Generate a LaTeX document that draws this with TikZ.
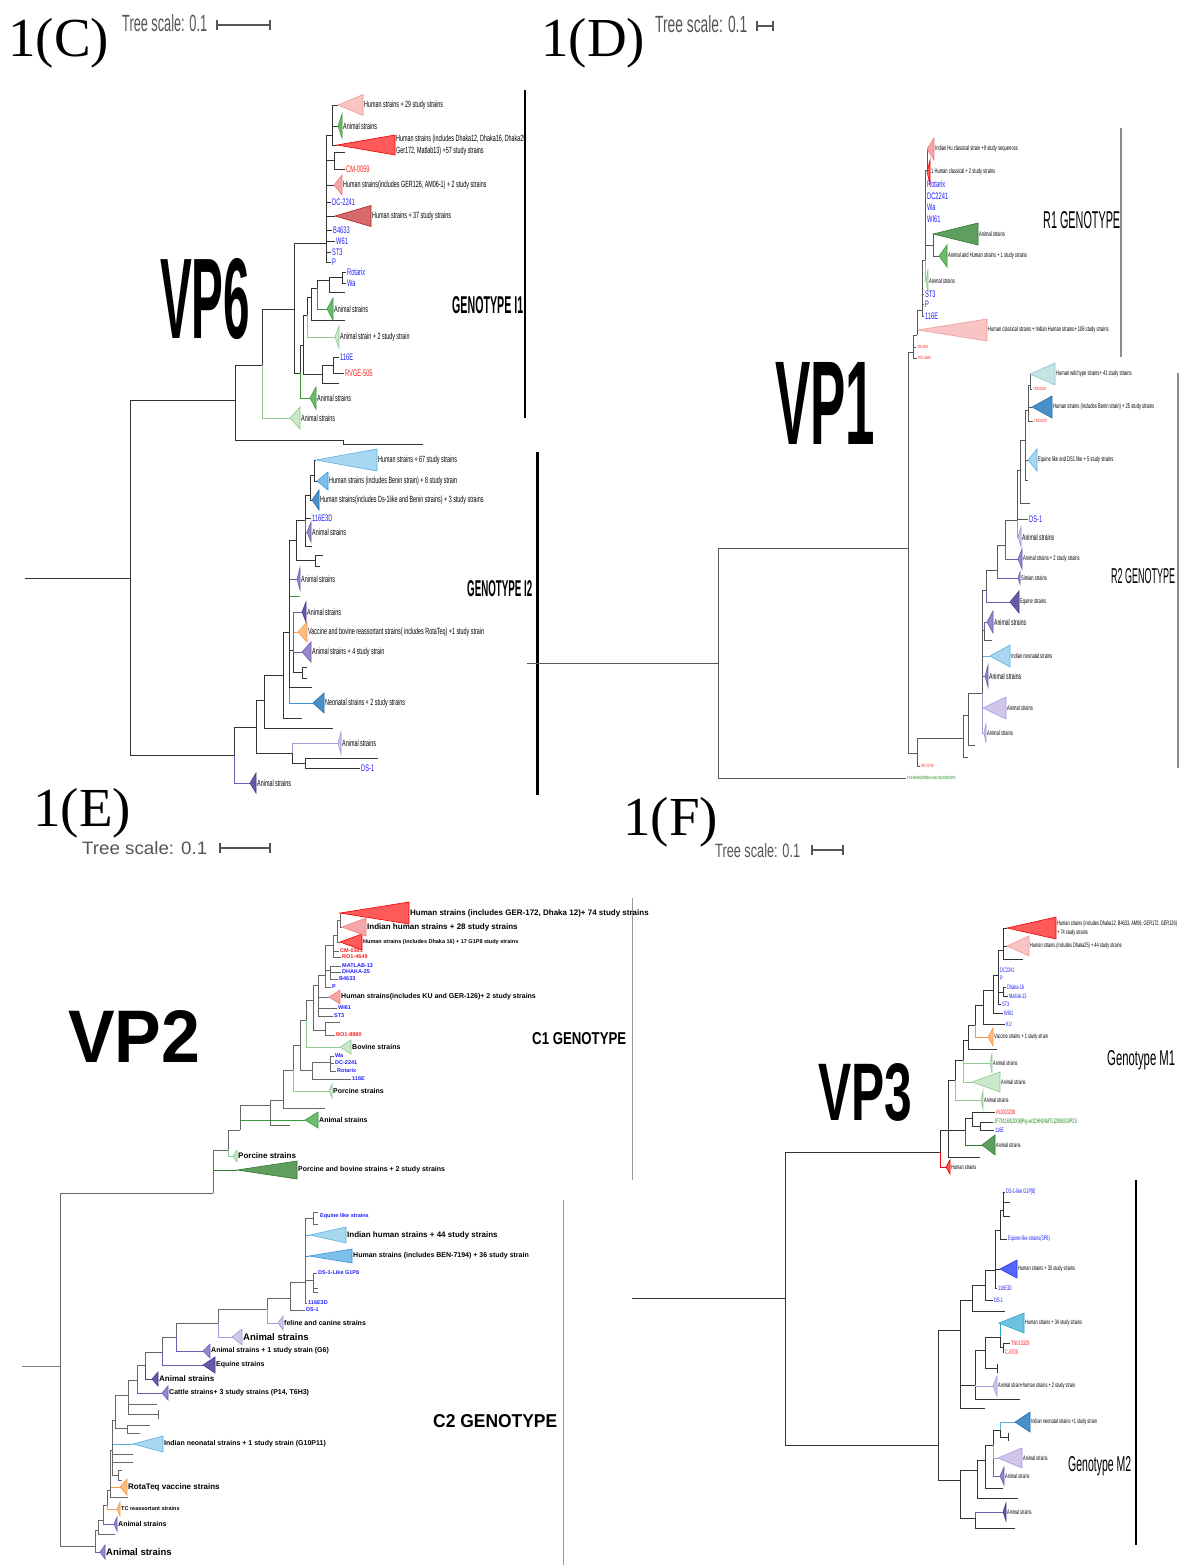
\documentclass[tikz,border=0pt]{standalone}
\usepackage{fontspec}
\setmainfont{Liberation Serif}
\newfontfamily\narrow[FakeStretch=0.6]{Liberation Sans}
\newfontfamily\sans{Liberation Sans}
\definecolor{tblue}{HTML}{1E1EFF}
\definecolor{tred}{HTML}{FF1E1E}
\definecolor{tgreen}{HTML}{1E8A1E}
\definecolor{sgray}{HTML}{555555}
\definecolor{pinkLf}{HTML}{F8C4C4}\definecolor{pinkLd}{HTML}{F19A9A}
\definecolor{pinkMf}{HTML}{F6A6A6}\definecolor{pinkMd}{HTML}{EE7F7F}
\definecolor{redBf}{HTML}{FF5A5A}\definecolor{redBd}{HTML}{F00000}
\definecolor{redDf}{HTML}{D46A6A}\definecolor{redDd}{HTML}{B22222}
\definecolor{grnDf}{HTML}{5F9E5F}\definecolor{grnDd}{HTML}{2F7A2F}
\definecolor{grnf}{HTML}{6DBB6D}\definecolor{grnd}{HTML}{3A9A3A}
\definecolor{grnLf}{HTML}{CBE8CB}\definecolor{grnLd}{HTML}{8FCB8F}
\definecolor{bluLf}{HTML}{A8D8F0}\definecolor{bluLd}{HTML}{5AB0E0}
\definecolor{bluMf}{HTML}{7EC0EA}\definecolor{bluMd}{HTML}{3A97D5}
\definecolor{bluDf}{HTML}{4A90C8}\definecolor{bluDd}{HTML}{2A6EA8}
\definecolor{tealf}{HTML}{C3E3E5}\definecolor{teald}{HTML}{8CC7CB}
\definecolor{purDf}{HTML}{6A58A8}\definecolor{purDd}{HTML}{4B3A8A}
\definecolor{purf}{HTML}{9887CC}\definecolor{purd}{HTML}{6E5BB0}
\definecolor{lavf}{HTML}{CFC6EA}\definecolor{lavd}{HTML}{A898D8}
\definecolor{ornf}{HTML}{FDBE85}\definecolor{ornd}{HTML}{F39A45}
\definecolor{royf}{HTML}{5566FF}\definecolor{royd}{HTML}{2233EE}
\definecolor{cyaf}{HTML}{6CC3E0}\definecolor{cyad}{HTML}{2EA2C8}
\newcommand{\fC}{\narrow\fontsize{9}{12}\selectfont}
\newcommand{\fCb}{\narrow\fontsize{9.5}{12}\selectfont}
\newcommand{\fD}{\narrow\fontsize{6.8}{8}\selectfont}
\newcommand{\fDb}{\narrow\fontsize{8.5}{10}\selectfont}
\newcommand{\fDt}{\narrow\fontsize{4.5}{5}\selectfont}
\newcommand{\fF}{\narrow\fontsize{6.5}{9}\selectfont}
\newcommand{\fE}{\sans\bfseries\fontsize{7}{8}\selectfont}
\newcommand{\fEs}{\sans\bfseries\fontsize{5.5}{6}\selectfont}
\newcommand{\fEm}{\sans\bfseries\fontsize{8}{9}\selectfont}
\newcommand{\fEb}{\sans\bfseries\fontsize{9.5}{10}\selectfont}
\newcommand{\clade}[8]{%
  \filldraw[#6] (#2,#3) -- ({#2+#4},{#3-#5}) -- ({#2+#4},{#3+#5}) -- cycle;
  \node[#7] (#1) at ({#2+#4},#3) {#8};}
\tikzset{
  x=1pt, y=-1pt,
  br/.style={draw=black!80, line width=0.8pt},
  lbl/.style={inner sep=1pt, anchor=west, align=left},
  lC/.style={lbl, font=\fC}, bC/.style={lbl, font=\fCb, text=tblue}, rC/.style={lbl, font=\fCb, text=tred},
  lD/.style={lbl, font=\fD}, lDb/.style={lbl, font=\fDb}, bD/.style={lbl, font=\fCb, text=tblue},
  rD/.style={lbl, font=\fDt, text=tred}, gD/.style={lbl, font=\fDt, text=tgreen},
  lE/.style={lbl, font=\fE}, lEs/.style={lbl, font=\fEs}, lEm/.style={lbl, font=\fEm}, lEb/.style={lbl, font=\fEb},
  bE/.style={lbl, font=\fEs, text=tblue}, rE/.style={lbl, font=\fEs, text=tred},
  lF/.style={lbl, font=\fF}, bF/.style={lbl, font=\fF, text=tblue}, rF/.style={lbl, font=\fF, text=tred}, gF/.style={lbl, font=\fF, text=tgreen},
  pinkL/.style={fill=pinkLf, draw=pinkLd, line width=0.6pt},
  pinkM/.style={fill=pinkMf, draw=pinkMd, line width=0.6pt},
  redB/.style={fill=redBf, draw=redBd, line width=0.6pt},
  redD/.style={fill=redDf, draw=redDd, line width=0.6pt},
  grnD/.style={fill=grnDf, draw=grnDd, line width=0.6pt},
  grn/.style={fill=grnf, draw=grnd, line width=0.6pt},
  grnL/.style={fill=grnLf, draw=grnLd, line width=0.6pt},
  bluL/.style={fill=bluLf, draw=bluLd, line width=0.6pt},
  bluM/.style={fill=bluMf, draw=bluMd, line width=0.6pt},
  bluD/.style={fill=bluDf, draw=bluDd, line width=0.6pt},
  teal/.style={fill=tealf, draw=teald, line width=0.6pt},
  purD/.style={fill=purDf, draw=purDd, line width=0.6pt},
  pur/.style={fill=purf, draw=purd, line width=0.6pt},
  lav/.style={fill=lavf, draw=lavd, line width=0.6pt},
  orn/.style={fill=ornf, draw=ornd, line width=0.6pt},
  roy/.style={fill=royf, draw=royd, line width=0.6pt},
  cya/.style={fill=cyaf, draw=cyad, line width=0.6pt},
  ttl/.style={anchor=base west, inner sep=0pt, font=\fontsize{55}{60}\selectfont},
  fit/.style={anchor=base west, inner sep=0pt},
  scb/.style={draw=sgray, line width=1.5pt},
  gbar/.style={draw=black!45, line width=1.5pt}
}
\begin{document}
\begin{tikzpicture}
\useasboundingbox (0,0) rectangle (1184,1565);
\fill[white] (0,0) rectangle (1184,1565);

%%%%%%%%%%%%%%%%%%%%%%%%%%%% PANEL C (VP6)
\node[ttl] (tC) at (8,57) {1(C)};
\node[fit] (tsC) at (122,32) {\resizebox{85pt}{17pt}{\sans\color{sgray}Tree scale: 0.1}};
\draw[scb] (217,25) -- (270,25); \draw[scb] (217,20) -- (217,30); \draw[scb] (270,20) -- (270,30);
\node[fit] (vp6) at (160,338) {\resizebox{90pt}{80pt}{\sans\bfseries VP6}};
\node[fit] (gI1) at (452,313) {\resizebox{71pt}{17pt}{\sans\bfseries GENOTYPE I1}};
\node[fit] (gI2) at (467,596) {\resizebox{65pt}{16pt}{\sans\bfseries GENOTYPE I2}};
\draw[line width=2pt] (525,90) -- (525,418);
\draw[line width=3pt] (537,452) -- (537,795);

\draw[br] (25,578) -- (130,578);
\draw[br] (130,578) |- (235,400);
\draw[br] (130,578) |- (234,755);
\draw[br] (235,400) |- (343,440) -- (343,444) -- (423,444);
\draw[br] (235,400) |- (262,365);
\draw[br] (262,365) |- (294,309);
\draw[br,draw=grnLd] (262,365) |- (290,418);
\clade{cA1}{290}{418}{10}{11}{grnL}{lC}{Animal strains}
\draw[br] (294,309) |- (326,243);
\draw[br] (294,309) |- (300,373);
% upper group
\draw[br] (326,243) |- (331,262); \node[bC] (cP) at (331,262) {P};
\draw[br] (326,243) |- (331,252); \node[bC] (cST3) at (331,252) {ST3};
\draw[br] (326,243) |- (335,241); \node[bC] (cW61) at (335,241) {W61};
\draw[br] (326,243) |- (332,230); \node[bC] (cB4633) at (332,230) {B4633};
\draw[br] (326,243) |- (335,216);
\clade{c37}{335}{216}{36}{10.5}{redD}{lC}{Human strains + 37 study strains}
\draw[br] (326,243) |- (331,202); \node[bC] (cDC) at (331,202) {DC-2241};
\draw[br] (326,243) |- (334,185);
\clade{cGER}{334}{185}{8}{10}{pinkM}{lC}{Human strains(includes GER126, AM06-1) + 2 study strains}
\draw[br] (326,243) |- (334,160);
\draw[br] (334,160) |- (345,152);
\draw[br] (334,160) |- (345,169); \node[rC] (cCM) at (345,169) {CM-0059};
\draw[br] (326,243) |- (332,135);
\draw[br] (332,135) |- (337,145);
\clade{c57}{337}{145}{58}{10}{redB}{lC}{Human strains (includes Dhaka12, Dhaka16, Dhaka25\\Ger172, Matlab13) +57 study strains}
\draw[br] (332,135) |- (338,126);
\clade{cA2}{338}{126}{4}{12}{grn}{lC}{Animal strains}
\draw[br] (332,135) |- (338,105);
\clade{c29}{338}{105}{25}{10.5}{pinkL}{lC}{Human strains + 29 study strains}
% lower I1
\draw[br,draw=grnd] (300,373) |- (310,398);
\clade{cA3}{310}{398}{6}{11}{grn}{lC}{Animal strains}
\draw[br] (300,373) |- (303,345);
\draw[br] (303,345) |- (322,374);
\draw[br] (322,374) |- (339,383);
\draw[br] (322,374) |- (333,365);
\draw[br] (333,365) |- (339,357); \node[bC] (c116E) at (339,357) {116E};
\draw[br] (333,365) |- (344,373); \node[rC] (cRV) at (344,373) {RVGE-505};
\draw[br] (303,345) |- (307,315);
\draw[br,draw=grnLd] (307,315) |- (335,337);
\clade{cA4}{335}{337}{4}{11}{grnL}{lC}{Animal strain + 2 study strain}
\draw[br] (307,315) |- (311,297);
\draw[br] (311,297) |- (345,320);
\draw[br] (311,297) |- (317,288);
\draw[br,draw=grnd] (317,288) |- (327,309);
\clade{cA5}{327}{309}{6}{11}{grn}{lC}{Animal strains}
\draw[br] (317,288) |- (329,280);
\draw[br] (329,280) |- (345,292);
\draw[br] (329,280) |- (342,277);
\draw[br] (342,277) |- (346,272); \node[bC] (cRot) at (346,272) {Rotarix};
\draw[br] (342,277) |- (346,283); \node[bC] (cWa) at (346,283) {Wa};
% I2
\draw[br] (234,755) |- (256,727);
\draw[br,draw=purd] (234,755) |- (250,783);
\clade{cA6}{250}{783}{6}{10}{purD}{lC}{Animal strains}
\draw[br] (256,727) |- (292,753);
\draw[br] (256,727) |- (264,700);
\draw[br,draw=lavd] (292,753) |- (338,743);
\clade{cA7}{338}{743}{3}{11}{lav}{lC}{Animal strains}
\draw[br] (292,753) |- (305,763);
\draw[br] (305,763) |- (378,758);
\draw[br] (305,763) |- (360,768); \node[bC] (cDS1) at (360,768) {DS-1};
\draw[br] (264,700) |- (333,728);
\draw[br] (264,700) |- (283,675);
\draw[br] (283,675) |- (302,718);
\draw[br] (283,675) |- (289,632);
\draw[br,draw=bluMd] (289,632) |- (313,703);
\clade{cNeo}{313}{703}{11}{10}{bluD}{lC}{Neonatal strains + 2 study strains}
\draw[br] (289,632) |- (312,687);
\draw[br] (289,632) |- (293,650);
\draw[br] (293,650) |- (302,672);
\draw[br] (302,672) |- (307,667); \draw[br] (302,672) |- (307,678);
\draw[br,draw=purd] (293,650) |- (302,652);
\clade{cA8}{302}{652}{9}{10}{pur}{lC}{Animal strains + 4 study strain}
\draw[br,draw=ornd] (293,650) |- (298,632);
\clade{cVac}{298}{632}{9}{10}{orn}{lC}{Vaccine and bovine reassortant strains( includes RotaTeq) +1 study strain}
\draw[br,draw=purd] (293,650) |- (302,612);
\clade{cA9}{302}{612}{4}{10}{purD}{lC}{Animal strains}
\draw[br,draw=grnd] (289,632) |- (300,596);
\draw[br,draw=purd] (289,632) |- (297,579);
\clade{cA10}{297}{579}{3}{11}{pur}{lC}{Animal strains}
\draw[br] (289,632) |- (296,540);
\draw[br] (296,540) |- (315,560);
\draw[br] (315,560) |- (323,555); \draw[br] (315,560) |- (320,566);
\draw[br] (296,540) |- (305,520);
\draw[br] (305,520) |- (312,546);
\draw[br,draw=purd] (305,520) |- (307,532);
\clade{cA11}{307}{532}{4}{10}{pur}{lC}{Animal strains}
\draw[br] (305,520) |- (311,518); \node[bC] (c116E3D) at (311,518) {116E3D};
\draw[br] (305,520) |- (310,495);
\draw[br] (310,495) |- (312,500);
\clade{cDs}{312}{500}{7}{10}{bluD}{lC}{Human strains(includes Ds-1like and Benin strains) + 3 study strains}
\draw[br] (310,495) |- (314,475);
\draw[br] (314,475) |- (317,481);
\clade{cBen}{317}{481}{11}{9}{bluM}{lC}{Human strains (includes Benin strain) + 8 study strain}
\draw[br] (314,475) |- (316,460);
\clade{c67}{316}{460}{61}{11}{bluL}{lC}{Human strains + 67 study strains}

%%%%%%%%%%%%%%%%%%%%%%%%%%%% PANEL D (VP1)
\begin{scope}[br/.style={draw=black!65, line width=0.7pt}]
\node[ttl] (tD) at (541,57) {1(D)};
\node[fit] (tsD) at (655,33) {\resizebox{92pt}{17pt}{\sans\color{sgray}Tree scale: 0.1}};
\draw[scb] (757,26) -- (773,26); \draw[scb] (757,21) -- (757,31); \draw[scb] (773,21) -- (773,31);
\node[fit] (vp1) at (775,444) {\resizebox{100pt}{82pt}{\sans\bfseries VP1}};
\node[fit] (gR1) at (1043,228) {\resizebox{77pt}{17pt}{\sans R1 GENOTYPE}};
\node[fit] (gR2) at (1111,583) {\resizebox{64pt}{15pt}{\sans R2 GENOTYPE}};
\draw[gbar] (1121,128) -- (1121,357);
\draw[gbar] (1178,373) -- (1178,768);

\draw[br] (527,663) -- (718,663);
\draw[br] (718,663) |- (908,548);
\draw[br] (718,663) |- (906,778); \node[gD] (dKX) at (906,778) {KX136569|2008|Bat-wt|CHN|2008|G3P3};
\draw[br] (908,548) |- (913,352);
\draw[br] (908,548) |- (917,753);
\draw[br] (917,753) |- (920,766); \node[rD] (dRO3) at (920,766) {RO1-5746};
\draw[br] (917,753) |- (963,738);
\draw[br] (963,738) |- (968,757);
\draw[br] (963,738) |- (968,715);
\draw[br] (968,715) |- (975,745);
\draw[br] (968,715) |- (982,693);
\draw[br,draw=lavd] (982,693) |- (983,708);
\clade{dA1}{983}{708}{23}{11}{lav}{lD}{Animal strains}
\draw[br,draw=lavd] (982,693) |- (984,733);
\clade{dA2}{984}{733}{2}{10}{lav}{lD}{Animal strains}
\draw[br,draw=purd] (982,693) |- (985,676);
\clade{dA3}{985}{676}{3}{11}{pur}{lDb}{Animal strains}
\draw[br,draw=bluLd] (982,693) |- (990,656);
\clade{dNeo}{990}{656}{20}{11}{bluL}{lD}{Indian neonatal strains}
\draw[br] (982,693) |- (984,630);
\draw[br] (984,630) |- (992,640);
\draw[br,draw=purd] (984,630) |- (987,622);
\clade{dA4}{987}{622}{6}{11}{pur}{lDb}{Animal strains}
\draw[br] (982,693) |- (986,590);
\draw[br,draw=purd] (986,590) |- (1010,602);
\clade{dEq}{1010}{602}{9}{11}{purD}{lD}{Equine strains}
\draw[br] (986,590) |- (997,570);
\draw[br,draw=purd] (997,570) |- (1018,578);
\clade{dSim}{1018}{578}{2}{6}{pur}{lD}{Simian strains}
\draw[br] (997,570) |- (1005,545);
\draw[br,draw=purd] (1005,545) |- (1018,559);
\clade{dA5}{1018}{559}{4}{10}{pur}{lD}{Animal strains + 2 study strains}
\draw[br] (1005,545) |- (1017,520);
\draw[br,draw=lavd] (1017,520) |- (1018,537);
\clade{dA6}{1018}{537}{3}{10}{lav}{lDb}{Animal strains}
\draw[br] (1017,520) |- (1028,519); \node[bD] (dDS1) at (1028,519) {DS-1};
\draw[br] (1017,520) |- (1020,470);
\draw[br] (1020,470) |- (1030,503);
\draw[br] (1020,470) |- (1025,440);
\draw[br] (1025,440) |- (1028,480);
\draw[br] (1025,440) |- (1028,460);
\clade{dEqL}{1028}{460}{9}{11}{bluL}{lD}{Equine like and DS1 like + 5 study strains}
\draw[br] (1025,440) |- (1028,410);
\draw[br] (1028,410) |- (1032,407);
\clade{dBen}{1032}{407}{20}{11}{bluD}{lD}{Human strains (includes Benin strain) + 25 study strains}
\draw[br] (1028,410) |- (1033,421); \node[rD] (dTN2) at (1033,421) {TN010204};
\draw[br] (1028,410) |- (1030,385);
\draw[br] (1030,385) |- (1032,389); \node[rD] (dTN1) at (1032,389) {TN010329};
\draw[br] (1030,385) |- (1030,374);
\clade{dWild}{1030}{374}{25}{11}{teal}{lD}{Human wild type strains+ 41 study strains}
% R1
\draw[br] (913,352) |- (917,358); \node[rD] (dRO1) at (917,358) {RO1-4649};
\draw[br] (913,352) |- (916,347); \node[rD] (dCM) at (916,347) {CM-0381};
\draw[br] (913,352) |- (917,335);
\draw[br] (917,335) |- (918,330);
\clade{dHC}{918}{330}{69}{11}{pinkL}{lD}{Human classical strains + Indian Human strains+ 106 study strains}
\draw[br] (917,335) |- (922,310);
\draw[br] (922,310) |- (924,316); \node[bD] (d116E) at (924,316) {116E};
\draw[br] (922,310) |- (924,304); \node[bD] (dP) at (924,304) {P};
\draw[br] (922,310) |- (924,294); \node[bD] (dST3) at (924,294) {ST3};
\draw[br] (922,310) |- (925,260);
\draw[br,draw=grnLd] (925,260) |- (926,281);
\clade{dA7}{926}{281}{2}{12}{grnL}{lD}{Animal strains}
\draw[br] (925,260) |- (933,245);
\draw[br] (933,245) |- (933,234);
\clade{dA8}{933}{234}{45}{11}{grnD}{lD}{Animal strains}
\draw[br] (933,245) |- (939,256);
\clade{dAH}{939}{256}{8}{11}{grn}{lD}{Animal and Human strains + 1 study strains}
\draw[br] (925,260) |- (925,200);
\draw[br] (925,200) |- (926,219); \node[bD] (dWI61) at (926,219) {WI61};
\draw[br] (925,200) |- (926,207); \node[bD] (dWa) at (926,207) {Wa};
\draw[br] (925,200) |- (926,196); \node[bD] (dDC) at (926,196) {DC2241};
\draw[br] (925,200) |- (926,184); \node[bD] (dRot) at (926,184) {Rotarix};
\draw[br] (925,200) |- (927,170);
\clade{dHC2}{927}{172}{3}{12}{redB}{lD}{1 Human classical + 2 study strains}
\draw[br] (927,170) |- (927,149);
\clade{dHu9}{927}{149}{7}{11}{pinkM}{lD}{Indian Hu classical strain +9 study sequences}
\end{scope}

%%%%%%%%%%%%%%%%%%%%%%%%%%%% PANEL E (VP2)
\begin{scope}[br/.style={draw=black!60, line width=0.7pt}]
\node[ttl] (tE) at (33,826) {1(E)};
\node[fit] (tsE) at (82,854) {\resizebox{125pt}{13pt}{\sans\color{sgray}Tree scale: 0.1}};
\draw[scb] (220,848) -- (270,848); \draw[scb] (220,843) -- (220,853); \draw[scb] (270,843) -- (270,853);
\node[fit] (vp2) at (68,1062) {\resizebox{132pt}{52pt}{\sans\bfseries VP2}};
\node[fit] (gC1) at (532,1044) {\resizebox{94pt}{12pt}{\sans\bfseries C1 GENOTYPE}};
\node[fit] (gC2) at (433,1427) {\resizebox{124pt}{13pt}{\sans\bfseries C2 GENOTYPE}};
\draw[draw=black!40, line width=1pt] (632,898) -- (632,1180);
\draw[draw=black!40, line width=1pt] (563,1200) -- (563,1565);

\draw[br,draw=black!50] (22,1366) -- (60,1366);
\draw[br] (60,1366) |- (213,1193);
\draw[br] (60,1366) |- (95,1546);
\draw[br,draw=grnDd] (213,1193) |- (237,1170);
\clade{ePB}{237}{1170}{60}{9}{grnD}{lE}{Porcine and bovine strains + 2 study strains}
\draw[br] (213,1193) |- (228,1150);
\draw[br,draw=grnLd] (228,1150) |- (233,1156);
\clade{ePS}{233}{1156}{4}{6}{grnL}{lEm}{Porcine strains}
\draw[br] (228,1150) |- (240,1130);
\draw[br,draw=grnd] (240,1130) |- (305,1120);
\clade{eAS}{305}{1120}{13}{8}{grn}{lE}{Animal strains}
\draw[br] (240,1130) |- (270,1105);
\draw[br] (270,1105) |- (290,1125);
\draw[br] (270,1105) |- (283,1100);
\draw[br] (283,1100) |- (325,1108);
\draw[br] (283,1100) |- (293,1070);
\draw[br,draw=grnLd] (293,1070) |- (329,1091);
\clade{ePor}{329}{1091}{3}{7}{grnL}{lE}{Porcine strains}
\draw[br] (293,1070) |- (300,1045);
\draw[br] (300,1045) |- (312,1070);
\draw[br] (312,1070) |- (351,1079); \node[bE] (e116E) at (351,1079) {116E};
\draw[br] (312,1070) |- (330,1062);
\draw[br] (330,1062) |- (334,1056); \node[bE] (eWa) at (334,1056) {Wa};
\draw[br] (330,1062) |- (334,1063); \node[bE] (eDC) at (334,1063) {DC-2241};
\draw[br] (330,1062) |- (336,1071); \node[bE] (eRot) at (336,1071) {Rotarix};
\draw[br] (300,1045) |- (306,1020);
\draw[br,draw=grnLd] (306,1020) |- (340,1047);
\clade{eBov}{340}{1047}{11}{7}{grnL}{lE}{Bovine strains}
\draw[br] (306,1020) |- (313,1000);
\draw[br] (313,1000) |- (325,1030);
\draw[br] (325,1030) |- (335,1035); \node[rE] (eRO2) at (335,1035) {RO1-8980};
\draw[br] (325,1030) |- (340,1022);
\draw[br] (313,1000) |- (318,985);
\draw[br] (318,985) |- (333,1016); \node[bE] (eST3) at (333,1016) {ST3};
\draw[br] (318,985) |- (337,1008); \node[bE] (eWI61) at (337,1008) {WI61};
\draw[br] (318,985) |- (329,997);
\clade{eKU}{329}{997}{11}{7}{pinkM}{lE}{Human strains(includes KU and GER-126)+ 2 study strains}
\draw[br] (318,985) |- (325,975);
\draw[br] (325,975) |- (331,987); \node[bE] (eP) at (331,987) {P};
\draw[br] (325,975) |- (330,970);
\draw[br] (330,970) |- (338,979); \node[bE] (eB4633) at (338,979) {B4633};
\draw[br] (330,970) |- (341,966); \node[bE] (eMAT) at (341,966) {MATLAB-13};
\draw[br] (330,970) |- (341,972); \node[bE] (eDHA) at (341,972) {DHAKA-25};
\draw[br] (325,975) |- (333,945);
\draw[br] (333,945) |- (339,951); \node[rE] (eCM) at (339,951) {CM-0381};
\draw[br] (333,945) |- (341,957); \node[rE] (eRO1) at (341,957) {RO1-4649};
\draw[br] (333,945) |- (337,935);
\draw[br] (337,935) |- (340,942);
\clade{eD16}{340}{942}{22}{8}{redB}{lEs}{Human strains (includes Dhaka 16) + 17 G1P8 study strains}
\draw[br] (337,935) |- (340,920);
\draw[br] (340,920) |- (342,927);
\clade{eI28}{342}{927}{24}{9}{pinkM}{lEm}{Indian human strains + 28 study strains}
\draw[br] (340,920) |- (340,913);
\clade{eH74}{340}{913}{69}{11}{redB}{lEm}{Human strains (includes GER-172, Dhaka 12)+ 74 study strains}
% C2
\draw[br] (95,1546) |- (98,1530);
\draw[br,draw=purd] (95,1546) |- (100,1552);
\clade{eAn4}{100}{1552}{5}{7}{pur}{lEb}{Animal strains}
\draw[br] (98,1530) |- (115,1534);
\draw[br] (98,1530) |- (103,1520);
\draw[br,draw=purd] (103,1520) |- (114,1524);
\clade{eAn3}{114}{1524}{3}{7}{pur}{lE}{Animal strains}
\draw[br] (103,1520) |- (107,1505);
\draw[br,draw=ornd] (107,1505) |- (117,1509);
\clade{eTC}{117}{1509}{3}{7}{orn}{lEs}{TC reassortant strains}
\draw[br] (107,1505) |- (110,1490);
\draw[br] (110,1490) |- (128,1497);
\draw[br,draw=ornd] (110,1490) |- (120,1487);
\clade{eRota}{120}{1487}{7}{8}{orn}{lEm}{RotaTeq vaccine strains}
\draw[br] (110,1490) |- (112,1450);
\draw[br] (112,1450) |- (118,1475);
\draw[br] (118,1475) |- (122,1470); \draw[br] (118,1475) |- (122,1480);
\draw[br] (112,1450) |- (133,1462);
\draw[br] (112,1450) |- (133,1454);
\draw[br,draw=bluLd] (112,1450) |- (133,1444);
\clade{eNeo}{133}{1444}{30}{8}{bluL}{lE}{Indian neonatal strains + 1 study strain (G10P11)}
\draw[br] (112,1450) |- (115,1420);
\draw[br] (115,1420) |- (127,1428);
\draw[br] (127,1428) |- (150,1425); \draw[br] (127,1428) |- (140,1433);
\draw[br] (115,1420) |- (128,1395);
\draw[br] (128,1395) |- (157,1404);
\draw[br] (128,1395) |- (158,1414); \draw[br] (158,1410) -- (158,1419);
\draw[br] (128,1395) |- (137,1380);
\draw[br,draw=purd] (137,1380) |- (162,1393);
\clade{eCat}{162}{1393}{6}{7}{pur}{lE}{Cattle strains+ 3 study strains (P14, T6H3)}
\draw[br] (137,1380) |- (145,1365);
\draw[br,draw=purDd] (145,1365) |- (152,1379);
\clade{eAn2}{152}{1379}{6}{7}{purD}{lEm}{Animal strains}
\draw[br] (145,1365) |- (162,1352);
\draw[br,draw=purd] (162,1352) |- (203,1365);
\clade{eEq}{203}{1365}{12}{8}{purD}{lE}{Equine strains}
\draw[br] (162,1352) |- (176,1337);
\draw[br,draw=purd] (176,1337) |- (203,1351);
\clade{eG6}{203}{1351}{7}{7}{pur}{lE}{Animal strains + 1 study strain (G6)}
\draw[br] (176,1337) |- (218,1323);
\draw[br,draw=lavd] (218,1323) |- (232,1337);
\clade{eAn1}{232}{1337}{10}{8}{lav}{lEb}{Animal strains}
\draw[br] (218,1323) |- (267,1309);
\draw[br,draw=lavd] (267,1309) |- (278,1323);
\clade{eFel}{278}{1323}{5}{7}{lav}{lE}{feline and canine strains}
\draw[br] (267,1309) |- (290,1298);
\draw[br] (290,1298) |- (305,1310); \node[bE] (eDS1) at (305,1310) {DS-1};
\draw[br] (290,1298) |- (305,1282);
\draw[br] (305,1282) |- (307,1303); \node[bE] (e116E3D) at (307,1303) {116E3D};
\draw[br] (305,1282) |- (313,1280);
\draw[br] (313,1280) |- (317,1273); \node[bE] (eDSL) at (317,1273) {DS-1-Like G1P8};
\draw[br] (313,1280) |- (318,1288); \draw[br] (313,1280) |- (318,1292);
\draw[br,draw=bluMd] (305,1282) |- (309,1256);
\clade{eBEN}{309}{1256}{43}{7}{bluM}{lE}{Human strains (includes BEN-7194) + 36 study strain}
\draw[br,draw=bluLd] (305,1282) |- (310,1235);
\clade{eI44}{310}{1235}{36}{8}{bluL}{lEm}{Indian human strains + 44 study strains}
\draw[br] (305,1282) |- (313,1218);
\draw[br] (313,1218) |- (318,1212); \draw[br] (313,1218) |- (318,1224);
\node[bE] (eEqL) at (319,1216) {Equine like strains};
\end{scope}

%%%%%%%%%%%%%%%%%%%%%%%%%%%% PANEL F (VP3)
\node[ttl] (tF) at (623,835) {1(F)};
\node[fit] (tsF) at (715,857) {\resizebox{85pt}{14pt}{\sans\color{sgray}Tree scale: 0.1}};
\draw[scb] (812,850) -- (843,850); \draw[scb] (812,845) -- (812,855); \draw[scb] (843,845) -- (843,855);
\node[fit] (vp3) at (818,1120) {\resizebox{94pt}{57pt}{\sans\bfseries VP3}};
\node[fit] (gM1) at (1107,1065) {\resizebox{68pt}{15pt}{\sans Genotype M1}};
\node[fit] (gM2) at (1068,1471) {\resizebox{63pt}{15pt}{\sans Genotype M2}};
\draw[line width=2.5pt] (1136,1180) -- (1136,1545);

\draw[br] (632,1298) -- (785,1298);
\draw[br] (785,1298) |- (940,1152);
\draw[br] (785,1298) |- (938,1445);
% M1
\draw[br,draw=redBd] (940,1152) |- (946,1167);
\clade{fHs}{946}{1167}{4}{7}{redB}{lF}{Human strains}
\draw[br] (940,1152) |- (948,1130);
\draw[br] (948,1130) |- (980,1157);
\draw[br] (948,1130) |- (965,1130);
\draw[br,draw=grnDd] (965,1130) |- (982,1145);
\clade{fA4}{982}{1145}{13}{10}{grnD}{lF}{Animal strains}
\draw[br] (965,1130) |- (972,1118);
\draw[br] (972,1118) |- (995,1112); \node[rF] (fIN) at (995,1112) {IN1003238};
\draw[br] (972,1118) |- (980,1126);
\draw[br] (980,1126) |- (993,1122); \node[gF] (fJF) at (993,1122) {JF791160|2008|Pig-wt|CHN|NMTL|2008|G9P23};
\draw[br] (980,1126) |- (994,1130); \node[bF] (f116E) at (994,1130) {116E};
\draw[br] (948,1130) |- (955,1080);
\draw[br,draw=grnLd] (955,1080) |- (981,1100);
\clade{fA3}{981}{1100}{2}{9}{grnL}{lF}{Animal strains}
\draw[br] (955,1080) |- (963,1060);
\draw[br,draw=grnLd] (963,1060) |- (972,1082);
\clade{fA2}{972}{1082}{28}{10}{grnL}{lF}{Animal strains}
\draw[br,draw=grnLd] (963,1060) |- (990,1063);
\clade{fA1}{990}{1063}{2}{10}{grnL}{lF}{Animal strains}
\draw[br] (963,1060) |- (968,1040);
\draw[br] (968,1040) |- (997,1049);
\draw[br] (968,1040) |- (975,1025);
\draw[br,draw=ornd] (975,1025) |- (988,1037);
\clade{fVac}{988}{1037}{5}{9}{orn}{lF}{Vaccine strains + 1 study strain}
\draw[br] (975,1025) |- (983,1005);
\draw[br] (983,1005) |- (1005,1024); \node[bF] (fKU) at (1005,1024) {KU};
\draw[br] (983,1005) |- (993,990);
\draw[br] (993,990) |- (1003,1013); \node[bF] (fWI61) at (1003,1013) {WI61};
\draw[br] (993,990) |- (998,975);
\draw[br] (998,975) |- (1001,1004); \node[bF] (fST3) at (1001,1004) {ST3};
\draw[br] (998,975) |- (1003,992);
\draw[br] (1003,992) |- (1006,987); \node[bF] (fDh16) at (1006,987) {Dhaka-16};
\draw[br] (1003,992) |- (1008,996); \node[bF] (fMat) at (1008,996) {Matlab-13};
\draw[br] (998,975) |- (999,978); \node[bF] (fP) at (999,978) {P};
\draw[br] (998,975) |- (999,970); \node[bF] (fDC) at (999,970) {DC2241};
\draw[br] (998,975) |- (1003,950);
\draw[br] (1003,950) |- (1023,959);
\draw[br] (1003,950) |- (1007,946);
\clade{fD25}{1007}{946}{22}{10}{pinkL}{lF}{Human strains (includes Dhaka25) + 44 study strains}
\draw[br] (1003,950) |- (1007,928);
\clade{fH74}{1007}{928}{49}{11}{redB}{lF}{Human strains (includes Dhaka12, B4633, AM06, GER172, GER126)\\+ 74 study strains}
% M2
\draw[br] (938,1445) |- (960,1330);
\draw[br] (938,1445) |- (960,1480);
\draw[br] (960,1330) |- (985,1408);
\draw[br] (960,1330) |- (972,1300);
\draw[br] (972,1300) |- (1005,1311);
\draw[br] (972,1300) |- (985,1285);
\draw[br] (985,1285) |- (993,1300); \node[bF] (fDS1) at (993,1300) {DS-1};
\draw[br] (985,1285) |- (995,1270);
\draw[br] (995,1270) |- (997,1288); \node[bF] (f116E3D) at (997,1288) {116E3D};
\draw[br] (995,1270) |- (1000,1269);
\clade{fH30}{1000}{1269}{17}{9}{roy}{lF}{Human strains + 30 study strains}
\draw[br] (995,1270) |- (1000,1230);
\draw[br] (1000,1230) |- (1007,1239); \node[bF] (fEqL) at (1007,1239) {Equine-like-strains(3P8)};
\draw[br] (1000,1230) |- (1003,1210);
\draw[br] (1003,1210) |- (1010,1202); \draw[br] (1003,1210) |- (1010,1216);
\draw[br] (1003,1210) |- (1005,1192); \node[bF] (fDSL) at (1005,1192) {DS-1-like G1P[8]};
\draw[br] (960,1330) |- (975,1385);
\draw[br] (975,1385) |- (1020,1399);
\draw[br,draw=lavd] (975,1385) |- (993,1386);
\clade{fAH}{993}{1386}{4}{10}{lav}{lF}{Animal strain+human strains + 2 study strain}
\draw[br] (975,1385) |- (985,1350);
\draw[br] (985,1350) |- (997,1368); \draw[br] (997,1364) -- (997,1373);
\draw[br] (985,1350) |- (1000,1337);
\draw[br] (1000,1337) |- (1003,1347);
\draw[br] (1003,1347) |- (1010,1343); \node[rF] (fTN) at (1010,1343) {TN010329};
\draw[br] (1003,1347) |- (1004,1352); \node[rF] (fC87) at (1004,1352) {C-8709};
\draw[br,draw=cyad] (1000,1337) |- (999,1323);
\clade{fH34}{999}{1323}{25}{10}{cya}{lF}{Human strains + 34 study strains}
\draw[br] (960,1480) |- (975,1518);
\draw[br,draw=purd] (975,1518) |- (1003,1512);
\clade{fA7}{1003}{1512}{3}{9}{purD}{lF}{Animal strains}
\draw[br] (975,1518) |- (1015,1528);
\draw[br] (960,1480) |- (977,1470);
\draw[br] (977,1470) |- (1018,1498);
\draw[br] (977,1470) |- (985,1460);
\draw[br] (985,1460) |- (1003,1488);
\draw[br] (985,1460) |- (993,1445);
\draw[br,draw=purd] (993,1445) |- (1000,1476);
\clade{fA6}{1000}{1476}{4}{9}{pur}{lF}{Animal strains}
\draw[br,draw=lavd] (993,1445) |- (998,1458);
\clade{fA5}{998}{1458}{24}{10}{lav}{lF}{Animal strains}
\draw[br] (993,1445) |- (1000,1430);
\draw[br,draw=bluLd] (1000,1430) |- (1015,1422);
\clade{fNeo}{1015}{1422}{15}{10}{bluD}{lF}{Indian neonatal strains +1 study strain}
\draw[br] (1000,1430) |- (1008,1437);
\draw[br] (1008,1433) -- (1008,1441);
\end{tikzpicture}
\end{document}
